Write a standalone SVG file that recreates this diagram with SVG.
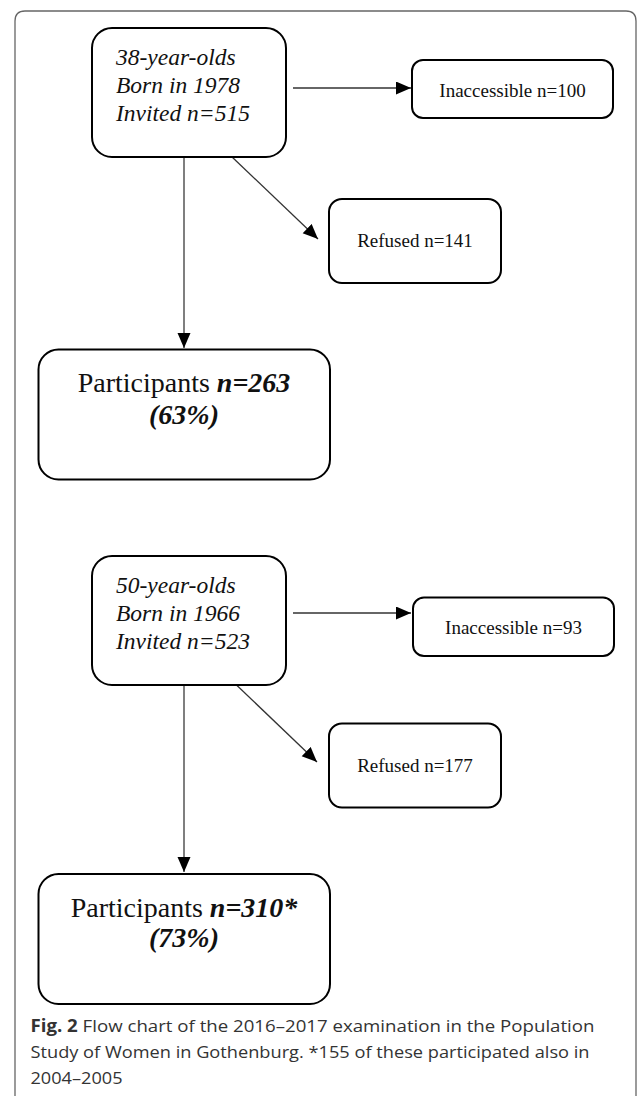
<svg xmlns="http://www.w3.org/2000/svg" width="638" height="1096" viewBox="0 0 638 1096">
<style>
.box{fill:#fff;stroke:#000;stroke-width:2}
.it{font-family:"Liberation Serif","Times New Roman",serif;font-style:italic;font-size:23.5px;fill:#111}
.small{font-family:"Liberation Serif","Times New Roman",serif;font-size:19px;fill:#111;text-anchor:middle}
.big{font-family:"Liberation Serif","Times New Roman",serif;font-size:28px;fill:#111;text-anchor:middle}
.bi{font-weight:bold;font-style:italic}
.conn{stroke:#333;stroke-width:1.3;fill:none}
.vconn{stroke:#555;stroke-width:1.5;fill:none}
.cap{font-family:"Open Sans","Liberation Sans",sans-serif;font-size:17px;fill:#333}
</style>
<defs>
<marker id="ah" markerUnits="userSpaceOnUse" markerWidth="16" markerHeight="14" refX="15" refY="6.5" orient="auto">
<path d="M0,0 L15,6.5 L0,13 Z" fill="#000"/>
</marker>
</defs>
<path d="M15,1096 V21 Q15,11 25,11 H626 Q636,11 636,21 V1096" fill="none" stroke="#666" stroke-width="1.3"/>
<g id="connectors">
<line class="conn" x1="293" y1="88" x2="411" y2="88" marker-end="url(#ah)"/>
<line class="conn" x1="231" y1="156" x2="318" y2="239" marker-end="url(#ah)"/>
<line class="vconn" x1="184" y1="157" x2="184" y2="348" marker-end="url(#ah)"/>
<line class="conn" x1="293" y1="613" x2="411" y2="613" marker-end="url(#ah)"/>
<line class="conn" x1="226" y1="675" x2="317" y2="762" marker-end="url(#ah)"/>
<line class="vconn" x1="184" y1="685" x2="184" y2="872" marker-end="url(#ah)"/>
</g>
<g id="cohort38">
<rect class="box" x="92" y="28" width="194" height="129" rx="20"/>
<text class="it" x="116" y="65">38-year-olds</text>
<text class="it" x="116" y="93">Born in 1978</text>
<text class="it" x="116" y="121">Invited n=515</text>
</g>
<g id="inacc38">
<rect class="box" x="412" y="60" width="201" height="58" rx="11"/>
<text class="small" x="512.5" y="96.5">Inaccessible n=100</text>
</g>
<g id="refused38">
<rect class="box" x="329" y="199" width="172" height="84" rx="13"/>
<text class="small" x="415" y="247">Refused n=141</text>
</g>
<g id="part38">
<rect class="box" x="38.5" y="349.5" width="291.5" height="130" rx="20"/>
<text class="big" x="184" y="392">Participants <tspan class="bi">n=263</tspan></text>
<text class="big bi" x="184" y="424">(63%)</text>
</g>
<g id="cohort50">
<rect class="box" x="92" y="556" width="194" height="129" rx="20"/>
<text class="it" x="116" y="593">50-year-olds</text>
<text class="it" x="116" y="621">Born in 1966</text>
<text class="it" x="116" y="648.5">Invited n=523</text>
</g>
<g id="inacc50">
<rect class="box" x="413" y="597.5" width="201" height="58.5" rx="11"/>
<text class="small" x="513.5" y="634">Inaccessible n=93</text>
</g>
<g id="refused50">
<rect class="box" x="329" y="723.5" width="172" height="84" rx="13"/>
<text class="small" x="415" y="771.5">Refused n=177</text>
</g>
<g id="part50">
<rect class="box" x="38.5" y="874" width="291.5" height="130" rx="20"/>
<text class="big" x="184" y="917">Participants <tspan class="bi">n=310*</tspan></text>
<text class="big bi" x="184" y="947">(73%)</text>
</g>
<g id="caption">
<text class="cap" x="30.5" y="1032" textLength="564" lengthAdjust="spacingAndGlyphs"><tspan font-weight="bold">Fig. 2</tspan>  Flow chart of the 2016–2017 examination in the Population</text>
<text class="cap" x="30.5" y="1058" textLength="559" lengthAdjust="spacingAndGlyphs">Study of Women in Gothenburg. *155 of these participated also in</text>
<text class="cap" x="30.5" y="1084" textLength="92" lengthAdjust="spacingAndGlyphs">2004–2005</text>
</g>
</svg>
